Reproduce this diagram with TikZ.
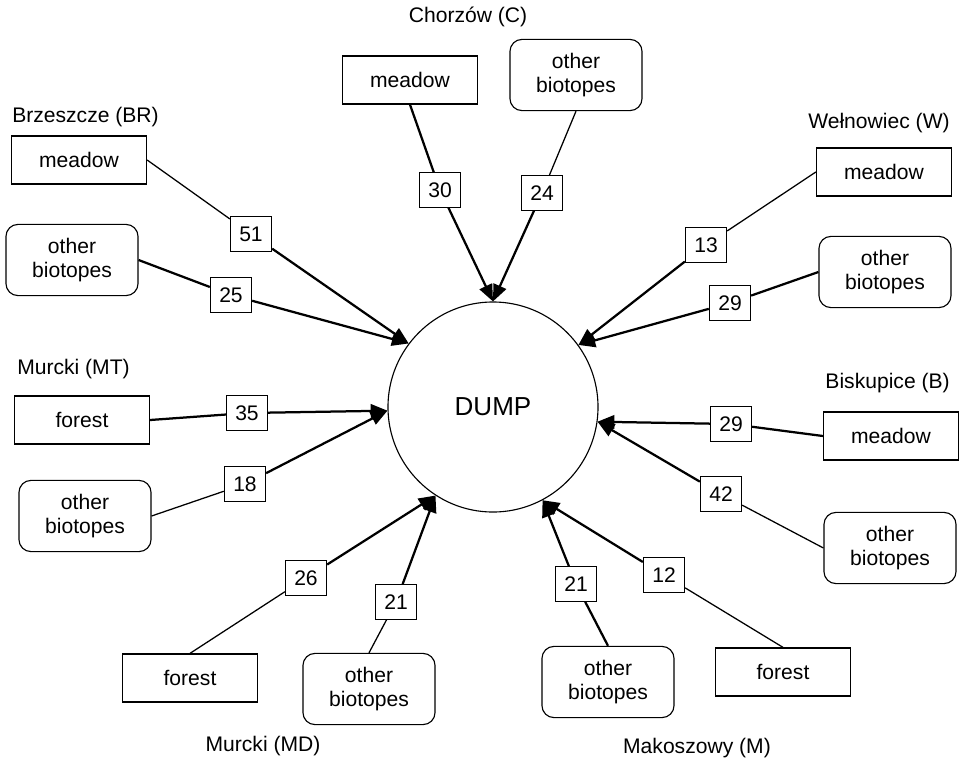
\documentclass[tikz,border=0pt]{standalone}
\usepackage{fontspec}
\setmainfont{Liberation Sans}
\usetikzlibrary{shapes,arrows.meta}

\begin{document}
\begin{tikzpicture}[
        x=0.025cm, y=-0.025cm,
        every node/.style={font=\fontsize{15}{17}\selectfont},
        patchbox/.style={rectangle, draw=black, line width=0.9pt, minimum width=3.375cm, minimum height=1.2cm, inner sep=0pt},
        otherbox/.style={rectangle, draw=black, line width=0.8pt, rounded corners=0.3cm, minimum width=3.3cm, minimum height=1.78cm, align=center, inner sep=0pt},
        countbox/.style={rectangle, draw=black, line width=0.8pt, fill=white, minimum width=1.03cm, minimum height=0.86cm, inner sep=0pt},
        site/.style={inner sep=0pt},
        feed/.style={line width=0.9pt},
        heavyfeed/.style={line width=1.6pt},
        flow/.style={-{Triangle[length=0.42cm, width=0.34cm]}, line width=1.6pt}
        ]

        \useasboundingbox (0,0) rectangle (968,764);

        % the dump in the middle
        \node[circle, draw=black, line width=0.8pt, minimum size=5.25cm, font=\fontsize{18.5}{20}\selectfont] (dump) at (493,407) {DUMP};

        % Brzeszcze (BR)
        \node[site, anchor=west] (brname) at (12,117) {Brzeszcze (BR)};
        \node[patchbox] (brmeadow) at (79,160) {meadow};
        \node[otherbox] (brother) at (72,260) {other\\biotopes};
        \node[countbox] (n51) at (251,234) {51};
        \node[countbox] (n25) at (231,295) {25};

        % Chorzow (C)
        \node[site] (cname) at (468,17) {Chorzów (C)};
        \node[patchbox] (cmeadow) at (410,80) {meadow};
        \node[otherbox] (cother) at (576,75) {other\\biotopes};
        \node[countbox] (n30) at (440,190) {30};
        \node[countbox] (n24) at (542,193) {24};

        % Welnowiec (W)
        \node[site, anchor=east] (wname) at (950,123) {Wełnowiec (W)};
        \node[patchbox] (wmeadow) at (884,172) {meadow};
        \node[otherbox] (wother) at (885,272) {other\\biotopes};
        \node[countbox] (n13) at (706,245) {13};
        \node[countbox] (n29w) at (730,303) {29};

        % Biskupice (B)
        \node[site, anchor=east] (bname) at (950,383) {Biskupice (B)};
        \node[patchbox] (bmeadow) at (891,436) {meadow};
        \node[otherbox] (bother) at (890,548) {other\\biotopes};
        \node[countbox] (n29b) at (731,424) {29};
        \node[countbox] (n42) at (721,494) {42};

        % Makoszowy (M)
        \node[site] (mname) at (697,748) {Makoszowy (M)};
        \node[otherbox] (mother) at (608,682) {other\\biotopes};
        \node[patchbox] (mforest) at (783,672) {forest};
        \node[countbox] (n21m) at (576,584) {21};
        \node[countbox] (n12) at (664,575) {12};

        % Murcki (MT)
        \node[site, anchor=west] (mtname) at (17,369) {Murcki (MT)};
        \node[patchbox] (mtforest) at (82,420) {forest};
        \node[otherbox] (mtother) at (85,516) {other\\biotopes};
        \node[countbox] (n35) at (247,413) {35};
        \node[countbox] (n18) at (245,484) {18};

        % Murcki (MD)
        \node[site] (mdname) at (263,746) {Murcki (MD)};
        \node[patchbox] (mdforest) at (190,678) {forest};
        \node[otherbox] (mdother) at (369,689) {other\\biotopes};
        \node[countbox] (n26) at (306,578) {26};
        \node[countbox] (n21md) at (396,602) {21};

        % links into the dump
        \draw[feed] (brmeadow.east) -- (n51);
        \draw[flow] (n51) -- (dump.143);
        \draw[heavyfeed] (brother.east) -- (n25);
        \draw[flow] (n25) -- (dump.143);

        \draw[heavyfeed] (cmeadow.south) -- (n30);
        \draw[flow] (n30) -- (dump.90);
        \draw[feed] (cother.south) -- (n24);
        \draw[flow] (n24) -- (dump.90);

        \draw[feed] (wmeadow.west) -- (n13);
        \draw[flow] (n13) -- (dump.36);
        \draw[heavyfeed] (wother.west) -- (n29w);
        \draw[flow] (n29w) -- (dump.36);

        \draw[heavyfeed] (bmeadow.west) -- (n29b);
        \draw[flow] (n29b) -- (dump.352);
        \draw[feed] (bother.west) -- (n42);
        \draw[flow] (n42) -- (dump.352);

        \draw[heavyfeed] (mother.north) -- (n21m);
        \draw[flow] (n21m) -- (dump.298);
        \draw[feed] (mforest.north) -- (n12);
        \draw[flow] (n12) -- (dump.298);

        \draw[heavyfeed] (mtforest.east) -- (n35);
        \draw[flow] (n35) -- (dump.182);
        \draw[feed] (mtother.east) -- (n18);
        \draw[flow] (n18) -- (dump.182);

        \draw[feed] (mdforest.north) -- (n26);
        \draw[flow] (n26) -- (dump.237);
        \draw[feed] (mdother.north) -- (n21md);
        \draw[flow] (n21md) -- (dump.237);

    \end{tikzpicture}
\end{document}
